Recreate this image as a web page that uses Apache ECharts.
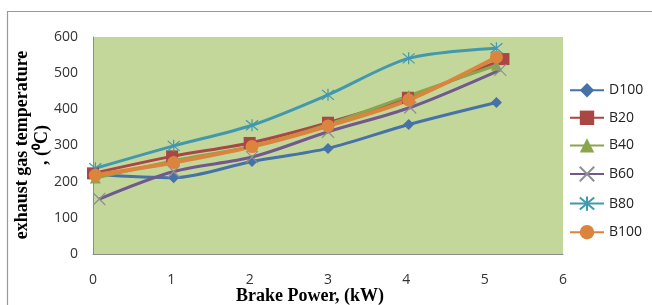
<!DOCTYPE html>
<html>
<head>
<meta charset="utf-8">
<script src="https://cdn.jsdelivr.net/npm/echarts@6/dist/echarts.min.js"></script>
<style>
  html, body { margin: 0; padding: 0; background: #fff; }
  #chart { width: 652px; height: 305px; }
</style>
</head>
<body>
<div id="chart"></div>
<script>
// brake power (kW) readings
const bpCommon = [0.03, 1.03, 2.03, 3.0, 4.03, 5.15];
const bpB20 = [0.0, 1.01, 2.0, 3.0, 4.02, 5.24];
const bpB60 = [0.08, 1.03, 2.03, 3.0, 4.05, 5.2];

// exhaust gas temperature (°C)
const d100 = [220, 211, 256, 292, 358, 419];
const b20 = [223, 270, 307, 363, 432, 539];
const b40 = [210, 258, 298, 358, 438, 522];
const b60 = [152, 228, 268, 338, 405, 509];
const b80 = [237, 299, 356, 440, 541, 569];
const b100 = [218, 253, 297, 354, 426, 544];

const xTicks = [0, 6, 1];
const yTicks = [0, 600, 100];

const pair = (xs, ys) => xs.map((x, i) => [x, ys[i]]);

const labelFont = '"Open Sans", sans-serif';
const titleFont = '"Liberation Serif", "Times New Roman", serif';

const chart = echarts.init(document.getElementById('chart'));

function line(name, xs, ys, color, symbol, size, width, extra) {
  return Object.assign({
    name: name,
    type: 'line',
    data: pair(xs, ys),
    smooth: 0.3,
    symbol: symbol,
    symbolSize: size,
    showSymbol: true,
    lineStyle: { color: color, width: width },
    itemStyle: { color: color },
    emphasis: { disabled: true }
  }, extra || {});
}

const xMark = 'path://M0,0L10,10M10,0L0,10';
const starMark = 'path://M0,0L10,10M10,0L0,10M5,-1L5,11';

const option = {
  animation: false,
  backgroundColor: '#ffffff',
  grid: { left: 93, right: 89, top: 37, bottom: 51 },
  xAxis: {
    type: 'value',
    min: xTicks[0],
    max: xTicks[1],
    interval: xTicks[2],
    axisLine: { lineStyle: { color: '#8c8c8c', width: 1 } },
    axisTick: { show: false },
    splitLine: { show: false },
    axisLabel: { color: '#333', fontFamily: labelFont, fontSize: 14, margin: 19 }
  },
  yAxis: {
    type: 'value',
    min: yTicks[0],
    max: yTicks[1],
    interval: yTicks[2],
    axisLine: { show: true, lineStyle: { color: '#8c8c8c', width: 1 } },
    axisTick: { show: false },
    splitLine: { show: false },
    splitArea: { show: true, areaStyle: { color: ['#c4d79b'] } },
    axisLabel: { color: '#333', fontFamily: labelFont, fontSize: 14, margin: 15 }
  },
  legend: {
    orient: 'vertical',
    left: 564,
    top: 78,
    itemGap: 13.2,
    itemWidth: 34,
    itemHeight: 18,
    textStyle: { color: '#222', fontFamily: labelFont, fontSize: 14 },
    data: ['D100', 'B20', 'B40', 'B60', 'B80', 'B100']
  },
  graphic: [
    {
      type: 'rect',
      silent: true,
      shape: { x: 7.5, y: 11.5, width: 700, height: 400 },
      style: { fill: 'none', stroke: '#9a9a9a', lineWidth: 1.2 }
    },
    {
      type: 'text',
      x: 32,
      y: 145,
      rotation: Math.PI / 2,
      style: {
        text: 'exhaust gas temperature\n, (⁰C)',
        font: 'bold 18px ' + titleFont,
        fill: '#000',
        align: 'center',
        verticalAlign: 'middle',
        lineHeight: 20
      }
    },
    {
      type: 'text',
      x: 310,
      y: 296,
      style: {
        text: 'Brake Power, (kW)',
        font: 'bold 18px ' + titleFont,
        fill: '#000',
        align: 'center',
        verticalAlign: 'middle'
      }
    }
  ],
  series: [
    line('D100', bpCommon, d100, '#4572a7', 'diamond', 11, 3),
    line('B20', bpB20, b20, '#aa4643', 'rect', 12, 3),
    line('B40', bpCommon, b40, '#89a54e', 'triangle', 11, 3),
    line('B60', bpB60, b60, '#71588f', xMark, 12, 3,
      { itemStyle: { color: '#71588f', borderColor: '#8e8e96', borderWidth: 1.2 } }),
    line('B80', bpCommon, b80, '#4198af', starMark, 12, 3,
      { itemStyle: { color: '#4198af', borderColor: '#4198af', borderWidth: 1.2 } }),
    line('B100', bpCommon, b100, '#db843d', 'circle', 13, 4)
  ]
};

chart.setOption(option);
</script>
</body>
</html>
